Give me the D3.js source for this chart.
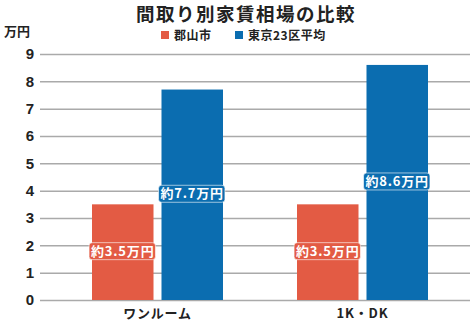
<!DOCTYPE html>
<html><head><meta charset="utf-8">
<script src="https://cdn.jsdelivr.net/npm/d3@7"></script>
<style>
body{margin:0;background:#fff;}
svg{display:block;font-family:"Noto Sans CJK JP","Noto Sans",sans-serif;font-weight:700;}
</style></head>
<body>
<svg id="c" width="475" height="333"></svg>
<script>
const categories = ["ワンルーム", "1K・DK"];
const seriesNames = ["郡山市", "東京23区平均"];
const koriyama = [3.5, 3.5];
const tokyo = [7.7, 8.6];
const yTicks = [0,1,2,3,4,5,6,7,8,9];
const colors = ["#e35b44", "#0b6db0"];

const svg = d3.select("#c");
const x = d3.scaleBand().domain(categories).range([55, 465]).paddingInner(0).paddingOuter(0);
const y = d3.scaleLinear().domain([0, 9]).range([300, 54]);
const sub = d3.scaleBand().domain([0,1]).range([0, 131]).paddingInner(0.115);

// title
svg.append("text").attr("x", 246).attr("y", 21).attr("text-anchor","middle")
  .attr("font-size", 18.5).attr("letter-spacing", 1.5).attr("fill","#222").text("間取り別家賃相場の比較");
svg.append("text").attr("x", 4).attr("y", 36).attr("font-size", 13).attr("fill","#222").text("万円");

// legend
const legX = [161, 235];
seriesNames.forEach((n,i)=>{
  svg.append("rect").attr("x", legX[i]).attr("y", 31).attr("width", 8).attr("height", 8).attr("fill", colors[i]);
  svg.append("text").attr("x", legX[i]+13).attr("y", 40).attr("font-size", 12).attr("letter-spacing", 0.5).attr("fill","#222").text(n);
});

// grid
const yAxis = d3.axisLeft(y).tickValues(yTicks).tickSize(-430).tickPadding(6).tickFormat(d3.format("d"));
const g = svg.append("g").attr("transform","translate(40,0)").call(yAxis);
g.select(".domain").remove();
g.selectAll(".tick line").attr("stroke","#aaa").attr("stroke-width",1.5);
g.selectAll(".tick text").attr("font-size",15).attr("fill","#222").attr("x",-6)
  .attr("font-family","Liberation Sans, Arial, sans-serif").attr("font-weight",700);

// bars
const data = [];
categories.forEach((c,ci)=>{
  [koriyama[ci], tokyo[ci]].forEach((v,si)=>data.push({c, si, v}));
});
const groupOff = (x.bandwidth()-131)/2;
const bars = svg.append("g");
bars.selectAll("rect").data(data).join("rect")
  .attr("x", d=>x(d.c)+groupOff+sub(d.si))
  .attr("y", d=>y(d.v))
  .attr("width", sub.bandwidth())
  .attr("height", d=>y(0)-y(d.v))
  .attr("fill", d=>colors[d.si]);

// labels
const lab = svg.append("g");
data.forEach(d=>{
  const cx = x(d.c)+groupOff+sub(d.si)+sub.bandwidth()/2;
  const cy = y(d.v/2) - 1;
  const t = lab.append("text").attr("x", cx).attr("y", cy+4.5).attr("text-anchor","middle")
    .attr("font-size", 13).attr("letter-spacing", 0.8).attr("fill","#fff").text("約"+d.v.toFixed(1)+"万円");
  const bb = t.node().getBBox();
  lab.insert("rect", () => t.node())
    .attr("x", bb.x-2).attr("y", cy-8.5).attr("width", bb.width+3).attr("height", 17)
    .attr("rx", 3).attr("fill", colors[d.si]).attr("stroke","rgba(255,255,255,0.6)").attr("stroke-width",1);
});

// category labels
svg.append("g").selectAll("text").data(categories).join("text")
  .attr("x", d=>x(d)+x.bandwidth()/2).attr("y", 318).attr("text-anchor","middle")
  .attr("font-size", 13).attr("letter-spacing", 0.8).attr("fill","#222").text(d=>d);
</script>
</body></html>
